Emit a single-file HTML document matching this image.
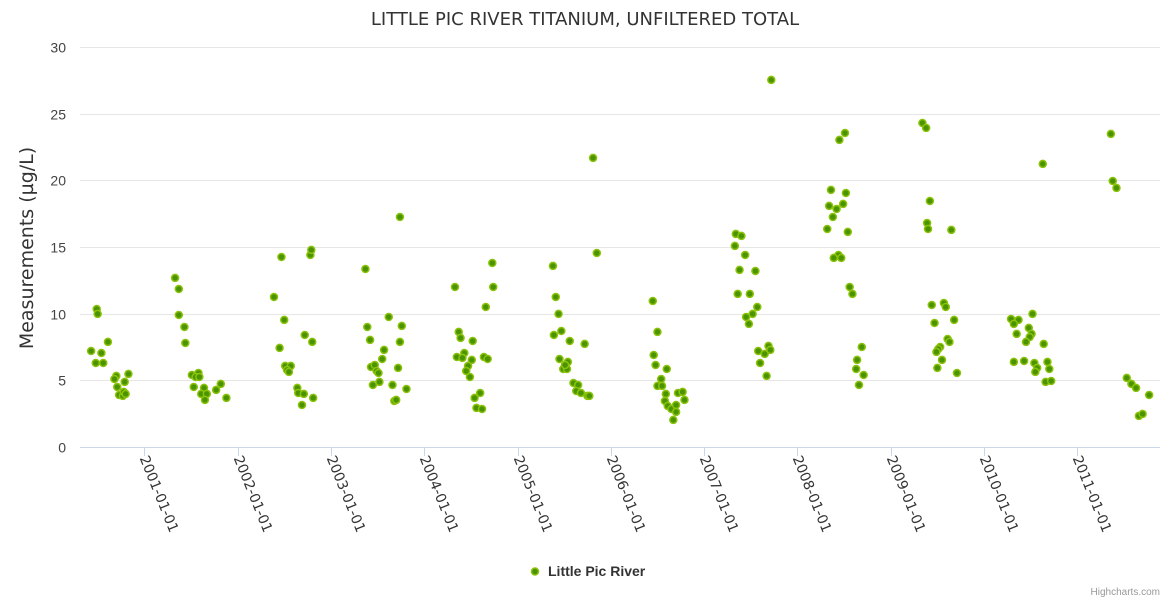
<!DOCTYPE html>
<html><head><meta charset="utf-8">
<style>
html,body{margin:0;padding:0;background:#fff;}
svg{display:block;font-family:"Liberation Sans",sans-serif;}
</style></head>
<body>
<svg id="chart" width="1170" height="600" xmlns="http://www.w3.org/2000/svg">
<rect x="0" y="0" width="1170" height="600" fill="#fff"/>
<text x="585" y="25" text-anchor="middle" font-size="18" fill="#333" font-family="DejaVu Sans, sans-serif">LITTLE PIC RIVER TITANIUM, UNFILTERED TOTAL</text>
<text transform="translate(33,248) rotate(-90)" text-anchor="middle" font-size="19" fill="#333" font-family="DejaVu Sans, sans-serif">Measurements (µg/L)</text>
<g id="grid"></g>
<g id="yticks"></g>
<line x1="80" y1="447.5" x2="1160" y2="447.5" stroke="#ccd6eb" stroke-width="1"/>
<g id="xticks"></g>
<g id="points"></g>
<g>
<circle cx="535" cy="571.5" r="3.5" fill="#4a9400" stroke="#8cc20a" stroke-width="1.5"/>
<text x="548" y="576" font-size="14" font-weight="bold" fill="#333">Little Pic River</text>
</g>
<text x="1160" y="595" text-anchor="end" font-size="10" fill="#999">Highcharts.com</text>
</svg>
<script>
const yTicks = [0,5,10,15,20,25,30];
const xTickYears = [2001,2002,2003,2004,2005,2006,2007,2008,2009,2010,2011];
const xTickLabels = ["2001-01-01","2002-01-01","2003-01-01","2004-01-01","2005-01-01","2006-01-01","2007-01-01","2008-01-01","2009-01-01","2010-01-01","2011-01-01"];
const dates = [
2000.49,2000.50,2000.61,2000.43,2000.54,2000.48,2000.56,2000.70,2000.68,2000.83,2000.79,2000.71,2000.73,2000.77,2000.78,2000.80,
2001.33,2001.37,2001.37,2001.43,2001.44,2001.51,2001.58,2001.55,2001.59,2001.53,2001.64,2001.61,2001.67,2001.65,2001.77,2001.82,2001.88,
2002.47,2002.78,2002.79,2002.39,2002.50,2002.72,2002.80,2002.45,2002.51,2002.57,2002.53,2002.55,2002.64,2002.65,2002.71,2002.81,2002.69,
2003.37,2003.62,2003.39,2003.76,2003.42,2003.74,2003.57,2003.55,2003.43,2003.47,2003.49,2003.51,2003.72,2003.45,2003.52,2003.66,2003.81,2003.68,2003.70,2003.74,
2004.33,2004.73,2004.74,2004.66,2004.37,2004.39,2004.52,2004.35,2004.43,2004.41,2004.51,2004.47,2004.45,2004.49,2004.64,2004.68,2004.54,2004.60,2004.56,2004.62,
2005.38,2005.81,2005.85,2005.41,2005.44,2005.47,2005.39,2005.56,2005.72,2005.45,2005.54,2005.49,2005.53,2005.51,2005.60,2005.65,2005.63,2005.68,2005.75,2005.77,
2006.45,2006.50,2006.46,2006.48,2006.60,2006.54,2006.50,2006.55,2006.59,2006.58,2006.61,2006.65,2006.67,2006.70,2006.70,2006.72,2006.77,2006.79,
2007.72,2007.34,2007.40,2007.33,2007.44,2007.38,2007.55,2007.36,2007.49,2007.57,2007.45,2007.52,2007.48,2007.69,2007.58,2007.65,2007.71,2007.60,2007.67,
2008.45,2008.51,2008.36,2008.52,2008.34,2008.42,2008.49,2008.38,2008.32,2008.54,2008.44,2008.39,2008.47,2008.56,2008.59,2008.69,2008.64,2008.63,2008.71,2008.66,
2009.34,2009.38,2009.42,2009.39,2009.40,2009.65,2009.44,2009.57,2009.59,2009.68,2009.47,2009.61,2009.63,2009.53,2009.51,2009.49,2009.55,2009.50,2009.71,
2010.63,2010.29,2010.37,2010.32,2010.52,2010.48,2010.51,2010.49,2010.45,2010.35,2010.64,2010.32,2010.43,2010.54,2010.57,2010.55,2010.68,2010.70,2010.66,2010.72,
2011.36,2011.38,2011.42,2011.53,2011.58,2011.63,2011.77,2011.66,2011.70
];
const values = [
10.35,9.98,7.88,7.2,7.05,6.3,6.3,5.33,5.1,5.48,4.88,4.5,3.9,3.83,4.13,3.98,
12.68,11.85,9.9,9.0,7.8,5.4,5.55,5.25,5.25,4.5,4.43,3.98,3.98,3.53,4.28,4.73,3.68,
14.25,14.4,14.78,11.25,9.53,8.4,7.88,7.43,6.08,6.08,5.78,5.63,4.43,4.05,3.98,3.68,3.15,
13.35,9.75,9.0,9.08,8.03,7.88,7.28,6.6,6.0,6.15,5.7,5.55,5.93,4.65,4.88,4.65,4.35,3.45,3.53,17.25,
12.0,13.8,12.0,10.5,8.63,8.18,7.95,6.75,7.05,6.68,6.53,6.08,5.7,5.25,6.75,6.6,3.68,4.05,2.93,2.85,
13.58,21.68,14.55,11.25,9.98,8.7,8.4,7.95,7.73,6.6,6.38,5.85,5.85,6.15,4.8,4.65,4.2,4.05,3.83,3.83,
10.95,8.63,6.9,6.15,5.85,5.1,4.58,4.58,3.98,3.45,3.08,2.85,2.03,3.15,2.63,4.05,4.13,3.53,
27.53,15.98,15.83,15.08,14.4,13.28,13.2,11.48,11.48,10.5,9.75,9.98,9.23,7.58,7.2,6.98,7.28,6.3,5.33,
23.03,23.55,19.28,19.05,18.08,17.85,18.23,17.25,16.35,16.13,14.4,14.18,14.18,12.0,11.48,7.5,6.53,5.85,5.4,4.65,
24.3,23.93,18.45,16.8,16.35,16.28,10.65,10.8,10.5,9.53,9.3,8.1,7.88,7.5,7.35,7.13,6.53,5.93,5.55,
21.23,9.6,9.53,9.23,9.98,8.93,8.48,8.25,7.88,8.48,7.73,6.38,6.45,6.3,5.93,5.63,6.38,5.85,4.88,4.95,
23.48,19.95,19.43,5.18,4.73,4.43,3.9,2.33,2.48
];
const NS = "http://www.w3.org/2000/svg";
function xScale(t){ return 144.3 + (t - 2001) * 93.3; }
function yScale(v){ return 447 - v * (400/30); }
function mk(tag, attrs, parent){ const e=document.createElementNS(NS,tag); for(const k in attrs) e.setAttribute(k,attrs[k]); parent.appendChild(e); return e; }
const grid=document.getElementById('grid'), yt=document.getElementById('yticks'), xt=document.getElementById('xticks'), pts=document.getElementById('points');
yTicks.forEach(v=>{
  const y=Math.round(yScale(v))+0.5;
  if(v>0){
    const l=mk('line',{x1:80,x2:1160,y1:y,y2:y,stroke:'#e6e6e6','stroke-width':1},grid);
    
    
  }
  const t=mk('text',{x:66,y:y+5,'text-anchor':'end','font-size':14,fill:'#444'},yt);
  t.textContent=v;
  
  
});
xTickYears.forEach((yr,i)=>{
  const x=Math.round(xScale(yr))+0.5;
  const l=mk('line',{x1:x,x2:x,y1:447,y2:456,stroke:'#ccd6eb','stroke-width':1},xt);
  
  
  const t=mk('text',{transform:`translate(${x-5},${458}) rotate(68)`,'font-size':14,fill:'#333','font-family':'DejaVu Sans, sans-serif'},xt);
  t.textContent=xTickLabels[i];
  
  
});
dates.forEach((d,i)=>{
  const c=mk('circle',{cx:xScale(d),cy:yScale(values[i]),r:3.5,fill:'#4a9400',stroke:'#8cc20a','stroke-width':1.5},pts);
  
  
});
</script>
</body></html>
